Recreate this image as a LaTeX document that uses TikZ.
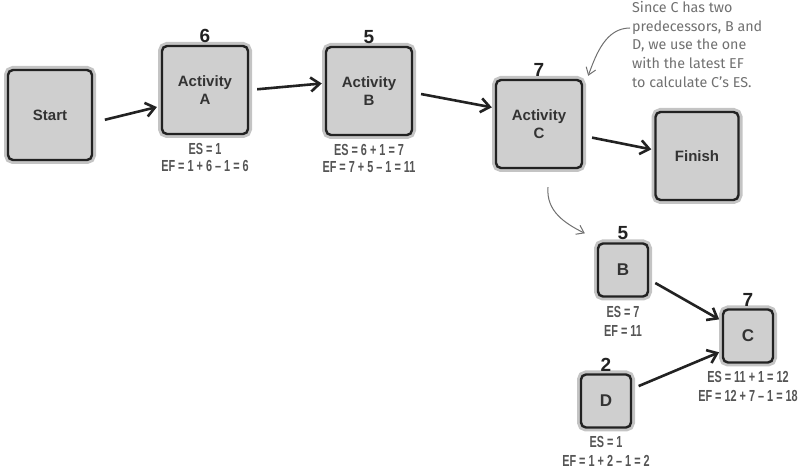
\documentclass[tikz,border=0pt]{standalone}
\usepackage{fontspec}
\setmainfont{Liberation Sans}
\newfontfamily\calcfont[FakeStretch=0.68]{Liberation Sans}
\newfontfamily\notefont{Fira Sans}
\definecolor{PMbox}{HTML}{CFCFCF}
\definecolor{PMhalo}{HTML}{8A8A8A}
\definecolor{PMink}{HTML}{222222}
\definecolor{PMtext}{HTML}{333333}
\definecolor{PMcalc}{HTML}{555555}
\definecolor{PMnote}{HTML}{707070}
\usetikzlibrary{arrows.meta, positioning, calc}

\tikzset{
  actbox/.style={draw=PMink, line width=2.4pt, rounded corners=5pt, fill=PMbox,
    preaction={draw=PMhalo, line width=8pt, opacity=0.5},
    minimum width=86pt, minimum height=88pt, align=center, text=PMtext,
    font=\bfseries\fontsize{15}{18}\selectfont},
  smallbox/.style={actbox, minimum width=50pt, minimum height=53pt,
    font=\bfseries\fontsize{17}{18}\selectfont},
  dur/.style={font=\bfseries\fontsize{19}{19}\selectfont, text=PMink, inner sep=1pt},
  esef/.style={font=\calcfont\bfseries\fontsize{16}{16.5}\selectfont, text=PMcalc, align=center, inner sep=0pt},
  esefwide/.style={esef, font=\calcfont\bfseries\fontsize{16}{19}\selectfont},
  flow/.style={draw=PMink, line width=2.6pt, -{Straight Barb[length=9pt, width=14pt]}},
  note/.style={draw=PMnote, line width=1pt, -{Straight Barb[length=7pt, width=10pt]}},
}

\begin{document}
\begin{tikzpicture}[x=1pt, y=-1pt]
  \useasboundingbox (0,0) rectangle (804,470);

  % main chain of activities
  \node[actbox, minimum width=84pt, minimum height=90pt] (start) at (50,115) {Start};
  \node[actbox] (actA) at (205,90) {Activity\\A};
  \node[actbox] (actB) at (369,91) {Activity\\B};
  \node[actbox] (actC) at (539,124) {Activity\\C};
  \node[actbox, minimum width=83pt] (finish) at (697,156) {Finish};

  % durations
  \node[dur, above=1pt of actA] (durA) {6};
  \node[dur, above=1pt of actB] (durB) {5};
  \node[dur, above=1pt of actC] (durC) {7};

  % early start / early finish
  \node[esef, below=8pt of actA] (calcA) {ES = 1\\EF = 1 + 6 – 1 = 6};
  \node[esef, below=8pt of actB] (calcB) {ES = 6 + 1 = 7\\EF = 7 + 5 – 1 = 11};

  \draw[flow, shorten <=12pt, shorten >=4pt] (start.-10) -- (actA.200);
  \draw[flow, shorten <=8pt, shorten >=3pt] (actA.0) -- (actB.170);
  \draw[flow, shorten <=8pt, shorten >=3pt] (actB.-2) -- (actC.160);
  \draw[flow, shorten <=9pt, shorten >=3pt] (actC.-15) -- (finish.172);

  % close-up of the two predecessors
  \node[smallbox] (smB) at (623,270) {B};
  \node[smallbox] (smC) at (748,336) {C};
  \node[smallbox] (smD) at (606,401) {D};

  \node[dur, above=1pt of smB] (durSB) {5};
  \node[dur, above=1pt of smC] (durSC) {7};
  \node[dur, above=1pt of smD] (durSD) {2};

  \node[esefwide, below=8pt of smB] (calcSB) {ES = 7\\EF = 11};
  \node[esefwide, below=7pt of smC] (calcSC) {ES = 11 + 1 = 12\\EF = 12 + 7 – 1 = 18};
  \node[esefwide, below=7pt of smD] (calcSD) {ES = 1\\EF = 1 + 2 – 1 = 2};

  \draw[flow, shorten <=7pt, shorten >=3pt] (smB.-20) -- (smC.150);
  \draw[flow, shorten <=7pt, shorten >=3pt] (smD.25) -- (smC.210);

  % handwritten note
  \node[anchor=north west, inner sep=0pt, align=left, text=PMnote,
    font=\notefont\fontsize{14.3}{18.8}\selectfont] (remark) at (632,1)
    {Since C has two\\predecessors, B and\\D, we use the one\\with the latest EF\\to calculate C’s ES.};

  \coordinate (remarkTail) at ($(remark.north west)+(-2,27)$);
  \coordinate (remarkTip) at ($(actC.north east)+(5,-3)$);
  \draw[note] (remarkTail) .. controls +(-24,0) and +(8,-22) .. (remarkTip);

  \coordinate (zoomTail) at ($(actC.south)+(9,18)$);
  \coordinate (zoomTip) at ($(smB.north west)+(-12,-9)$);
  \draw[note] (zoomTail) .. controls +(-2,24) and +(-20,-10) .. (zoomTip);
\end{tikzpicture}
\end{document}
